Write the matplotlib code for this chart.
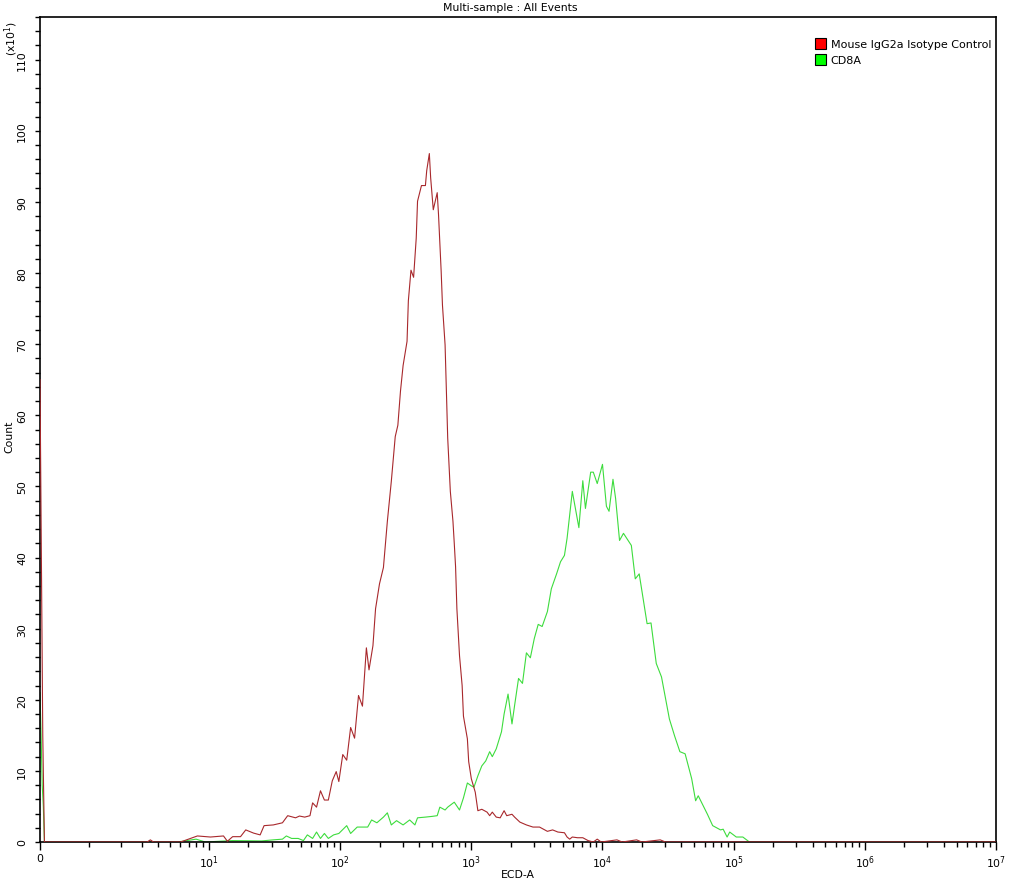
import numpy as np
import matplotlib
matplotlib.use('Agg')
import matplotlib.pyplot as plt
from matplotlib.patches import Patch
from matplotlib.ticker import FixedLocator, MultipleLocator

# histogram values, counts in units of x10^1, x as log10(ECD-A)
red_zero_x = [0.0, 0.02, 0.04, 0.05, 0.06, 0.07, 0.08, 3.3, 3.5, 3.7]
red_zero_counts = [65, 45, 25, 15, 10, 5, 0, 0, 0.3, 0]
red_log_x = [0.78, 0.91, 1.01, 1.11, 1.14, 1.18, 1.24, 1.28, 1.34, 1.39, 1.42, 1.49, 1.56, 1.60,
             1.66, 1.69, 1.73, 1.77, 1.79, 1.82, 1.85, 1.88, 1.91, 1.94, 1.97, 1.99, 2.02, 2.05,
             2.08, 2.11, 2.14, 2.17, 2.20, 2.22, 2.25, 2.27, 2.30, 2.33, 2.36, 2.39, 2.42, 2.44,
             2.46, 2.48, 2.51, 2.52, 2.54, 2.56, 2.58, 2.59, 2.62, 2.65, 2.66, 2.68, 2.69, 2.71,
             2.74, 2.75, 2.77, 2.78, 2.80, 2.81, 2.82, 2.84, 2.86, 2.87, 2.88, 2.89, 2.91, 2.93,
             2.94, 2.97, 2.98, 3.00, 3.03, 3.05, 3.08, 3.12, 3.14, 3.16, 3.19, 3.22, 3.25, 3.27,
             3.31, 3.33, 3.37, 3.42, 3.47, 3.52, 3.58, 3.62, 3.66, 3.71, 3.73, 3.75, 3.77, 3.81,
             3.85, 3.89, 3.93, 3.96, 3.99, 4.11, 4.15, 4.26, 4.30, 4.44, 4.48, 7.0]
red_counts = [0, 0.85, 0.7, 0.85, 0.1, 0.75, 0.75, 1.7, 1.25, 1.0, 2.3, 2.4, 2.7, 3.7,
              3.4, 3.65, 3.5, 3.7, 5.5, 4.9, 7.2, 5.9, 5.9, 8.6, 9.9, 8.5, 12.3, 11.5,
              16.1, 14.6, 20.6, 19.1, 27.3, 24.2, 27.6, 32.8, 36.3, 38.6, 45.1, 50.7, 57.0, 58.6,
              63.4, 67.0, 70.4, 76.1, 80.4, 79.4, 84.9, 90.1, 92.3, 92.3, 94.4, 96.8, 93.4, 88.9,
              91.3, 88.2, 80.3, 75.5, 69.9, 63.4, 56.8, 49.3, 45.1, 42.0, 38.7, 32.8, 26.2, 22.0,
              17.7, 14.5, 11.3, 8.9, 7.0, 4.4, 4.6, 4.2, 3.7, 4.2, 3.5, 3.4, 4.4, 3.7,
              3.9, 3.5, 2.8, 2.4, 2.1, 2.1, 1.5, 1.7, 1.4, 1.3, 0.7, 0.4, 0.7, 0.6,
              0.6, 0.2, 0, 0.4, 0, 0.3, 0, 0.3, 0, 0.3, 0, 0]

green_zero_x = [0.0, 0.02, 0.04, 0.06, 0.08]
green_zero_counts = [21, 15, 8, 5, 0]
green_log_x = [0.76, 0.90, 0.97, 1.18, 1.40, 1.49, 1.56, 1.59, 1.63, 1.68, 1.72, 1.75, 1.79, 1.82,
               1.85, 1.88, 1.91, 1.95, 1.99, 2.05, 2.08, 2.13, 2.21, 2.24, 2.28, 2.33, 2.36, 2.39,
               2.43, 2.48, 2.53, 2.57, 2.59, 2.65, 2.70, 2.74, 2.76, 2.80, 2.82, 2.87, 2.91, 2.94,
               2.97, 3.00, 3.02, 3.05, 3.08, 3.11, 3.14, 3.16, 3.19, 3.23, 3.25, 3.28, 3.31, 3.33,
               3.36, 3.39, 3.42, 3.45, 3.48, 3.51, 3.54, 3.58, 3.61, 3.65, 3.68, 3.71, 3.73, 3.77,
               3.82, 3.85, 3.87, 3.91, 3.93, 3.96, 4.00, 4.03, 4.05, 4.08, 4.10, 4.13, 4.16, 4.22,
               4.25, 4.28, 4.34, 4.37, 4.41, 4.45, 4.51, 4.55, 4.59, 4.63, 4.68, 4.71, 4.73, 4.80,
               4.84, 4.90, 4.92, 4.95, 4.97, 5.02, 5.07, 5.12, 7.0]
green_counts = [0, 0.4, 0, 0.2, 0.15, 0.3, 0.4, 0.85, 0.5, 0.5, 0.2, 1.0, 0.5, 1.4,
                0.5, 1.2, 0.5, 1.0, 1.2, 2.3, 1.2, 2.1, 2.1, 3.1, 2.7, 3.5, 4.1, 2.4,
                3.0, 2.4, 3.1, 2.4, 3.4, 3.5, 3.6, 3.7, 4.9, 4.5, 4.9, 5.6, 4.5, 6.2,
                8.3, 7.9, 7.7, 9.3, 10.7, 11.4, 12.7, 12.0, 13.1, 15.5, 18.0, 20.8, 16.6, 19.2,
                23.0, 22.3, 26.6, 25.9, 28.6, 30.6, 30.3, 32.4, 35.6, 37.7, 39.4, 40.3, 42.7, 49.3,
                44.2, 50.8, 46.9, 52.0, 52.0, 50.4, 53.1, 47.2, 46.5, 51.0, 48.3, 42.4, 43.4, 41.7,
                37.0, 37.7, 30.7, 30.8, 25.1, 23.2, 17.3, 14.9, 12.7, 12.4, 8.9, 5.8, 6.5, 3.9,
                2.3, 1.7, 1.8, 0.7, 1.4, 0.7, 0.7, 0, 0]

labels = ['Mouse IgG2a Isotype Control', 'CD8A']

W = 1.03  # width of the linear region near zero


def fwd(x):
    return np.arcsinh(np.asarray(x, dtype=float) / W) / np.log(10)


def inv(y):
    return W * np.sinh(np.asarray(y, dtype=float) * np.log(10))


plt.rcParams['font.family'] = ['DejaVu Sans']
fs = 7.8

fig = plt.figure(figsize=(10.11, 8.79), dpi=100)
ax = fig.add_axes([40 / 1011, 36 / 879, 956 / 1011, 825 / 879])
ax.set_xscale('function', functions=(fwd, inv))

red_x = np.concatenate([red_zero_x, 10 ** np.array(red_log_x)])
red_y = np.concatenate([red_zero_counts, red_counts])
green_x = np.concatenate([green_zero_x, 10 ** np.array(green_log_x)])
green_y = np.concatenate([green_zero_counts, green_counts])

ax.plot(green_x, green_y, color='#3ddc3d', lw=0.8, zorder=2)
ax.plot(red_x, red_y, color='#a8282c', lw=0.8, zorder=3)

ax.set_xlim(0, 1e7)
ax.set_ylim(0, 116)

majors = [0] + [10 ** k for k in range(1, 8)]
ax.xaxis.set_major_locator(FixedLocator(majors))
ax.set_xticklabels(['0'] + [r'$10^{%d}$' % k for k in range(1, 8)])
minors = list(range(1, 10)) + [m * 10 ** k for k in range(1, 7) for m in range(2, 10)]
ax.xaxis.set_minor_locator(FixedLocator(minors))

ax.set_yticks(np.arange(0, 111, 10))
ax.yaxis.set_minor_locator(MultipleLocator(2))

ax.tick_params(axis='x', which='major', length=6, width=1, labelsize=fs, pad=2)
ax.tick_params(axis='x', which='minor', length=3.8, width=1)
ax.tick_params(axis='y', which='both', length=3.3, width=1, labelsize=fs, pad=6)
for lab in ax.get_yticklabels():
    lab.set_rotation(90)
    lab.set_va('center')

for sp in ax.spines.values():
    sp.set_linewidth(1.2)

fig.text(510 / 1011, 1 - 8 / 879, 'Multi-sample : All Events', ha='center', va='center', fontsize=fs)
fig.text(518 / 1011, 1 - 875 / 879, 'ECD-A', ha='center', va='center', fontsize=fs)
fig.text(9 / 1011, 1 - 437 / 879, 'Count', ha='center', va='center', rotation=90, fontsize=fs)
fig.text(11 / 1011, 1 - 38 / 879, r'(x10$^{1}$)', ha='center', va='center', rotation=90, fontsize=fs)

handles = [Patch(facecolor='#ff0000', edgecolor='black', lw=0.8),
           Patch(facecolor='#00ff00', edgecolor='black', lw=0.8)]
ax.legend(handles, labels, loc='upper left', bbox_to_anchor=((815 - 40) / 956, (843 - 39) / 825),
          frameon=False, fontsize=8, handlelength=1.0, handleheight=1.1, handletextpad=0.4,
          labelspacing=0.45, borderpad=0, borderaxespad=0)

fig.savefig('out.png', dpi=100)
